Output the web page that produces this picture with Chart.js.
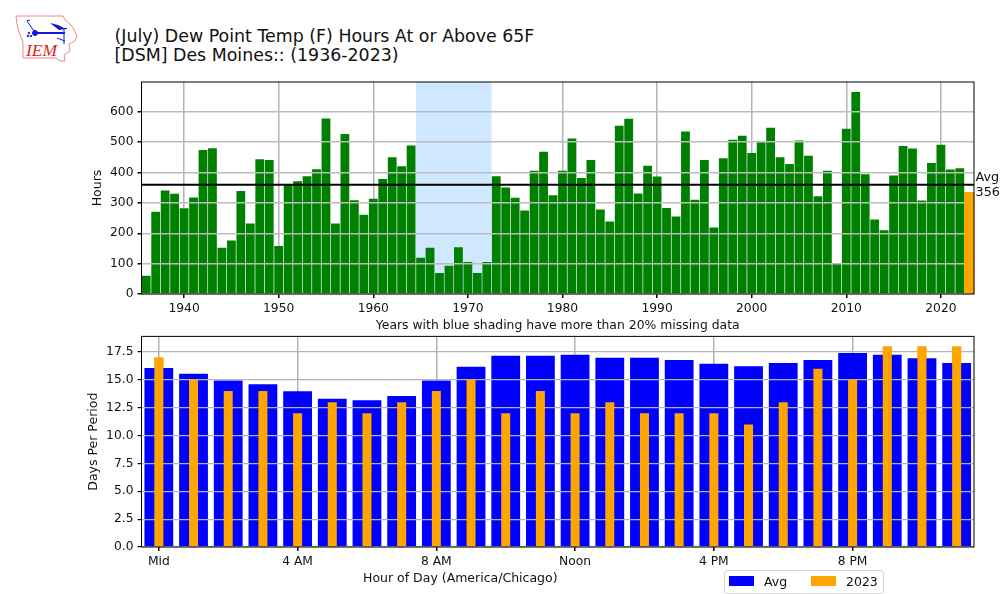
<!DOCTYPE html>
<html>
<head>
<meta charset="utf-8">
<title>Dew Point Hours</title>
<script src="https://cdn.jsdelivr.net/npm/chart.js@4"></script>
<style>
  html, body { margin: 0; padding: 0; background: #fff; overflow: hidden; }
  body { width: 1000px; height: 594px; position: relative; font-family: "DejaVu Sans", sans-serif; color: #000; }
  canvas { position: absolute; left: 0; }
  #title { position: absolute; left: 114.5px; top: 26.5px; font-size: 17.4px; line-height: 19.5px; white-space: pre; color: #111; }
  #xnote { position: absolute; left: 363px; top: 570px; font-size: 12.5px; line-height: 15px; white-space: pre; color: #111; }
  #legend { position: absolute; left: 724px; top: 570px; width: 158px; height: 22px; border: 1px solid #d8d8d8; border-radius: 3px; font-size: 12.5px; color: #111; }
  #legend span { position: absolute; top: 4px; line-height: 14px; }
  #legend i { position: absolute; top: 5px; width: 25px; height: 10px; }
  #logo { position: absolute; left: 14px; top: 14px; }
</style>
</head>
<body>
<svg id="logo" width="66" height="50" viewBox="0 0 66 50">
  <polygon points="2,2 49,2 51,6 58,12 63,22 61,27 55,30 56,37 50,41 51,47 46,47 42,44 9,44 9,28 5,18 3,10" fill="none" stroke="#e8888c" stroke-width="1"/>
  <g stroke="#1414dc" fill="#1414dc">
    <line x1="21" y1="19" x2="51" y2="19" stroke-width="2"/>
    <circle cx="21" cy="19" r="2.5"/>
    <line x1="20" y1="17" x2="13" y2="7" stroke-width="1"/>
    <line x1="13" y1="7" x2="16" y2="6" stroke-width="1"/>
    <polygon points="36,9 44,11 52,15 45,16" stroke="none"/>
    <line x1="48" y1="14.5" x2="53" y2="14.5" stroke-width="1"/>
    <line x1="50" y1="14" x2="50" y2="24" stroke-width="1"/>
    <line x1="50" y1="24" x2="50" y2="30" stroke-width="1"/>
    <line x1="43" y1="24" x2="51" y2="27" stroke-width="1"/>
    <circle cx="15" cy="19" r="0.8"/><circle cx="14" cy="22" r="0.8"/><circle cx="17" cy="22" r="0.8"/>
  </g>
  <text x="12" y="42" font-family="Liberation Serif, serif" font-style="italic" font-size="17.5" fill="#e01c24">IEM</text>
</svg>
<div id="title">(July) Dew Point Temp (F) Hours At or Above 65F
[DSM] Des Moines:: (1936-2023)</div>
<canvas id="yearChart"></canvas>
<canvas id="hourChart"></canvas>
<div id="xnote">Hour of Day (America/Chicago)</div>
<div id="legend"></div>
<script>
const years = [];
for (let y = 1936; y <= 2023; y++) years.push(y);
const yearHours = [60, 271, 341, 330, 282, 318, 474, 480, 152, 176, 339, 232, 444, 441, 158, 361, 371, 388, 411, 578, 232, 527,
  309, 261, 314, 379, 450, 421, 489, 119, 152, 69, 93, 154, 105, 69, 105, 388, 351, 317, 275, 406, 468, 325, 406, 512, 382, 441,
  278, 239, 554, 577, 331, 422, 387, 283, 255, 535, 310, 441, 219, 447, 508, 521, 464, 500, 547, 450, 428, 505, 455, 322, 406,
  99, 544, 665, 394, 245, 210, 390, 487, 479, 308, 431, 491, 410, 414, 334];
const yearTicks = [1940, 1950, 1960, 1970, 1980, 1990, 2000, 2010, 2020];
const hourValueTicks = [0, 100, 200, 300, 400, 500, 600];
const shadedYears = [1965, 1966, 1967, 1968, 1969, 1970, 1971, 1972];
const highlightYear = 2023;
const avgLine = 359.5;
const avgLabel = ["Avg", "356.4"];

const hours = [];
for (let h = 0; h < 24; h++) hours.push(h);
const hourTickLabels = { 0: "Mid", 4: "4 AM", 8: "8 AM", 12: "Noon", 16: "4 PM", 20: "8 PM" };
const dayValueTicks = [0, 2.5, 5, 7.5, 10, 12.5, 15, 17.5];
const avgDays = [16.06, 15.55, 14.93, 14.6, 13.97, 13.31, 13.16, 13.55, 14.93, 16.18, 17.17, 17.17, 17.26, 16.99, 16.99, 16.78,
  16.45, 16.21, 16.51, 16.78, 17.41, 17.26, 16.93, 16.51];
const days2023 = [17, 15, 14, 14, 12, 13, 12, 13, 14, 15, 12, 14, 12, 13, 12, 12, 12, 11, 13, 16, 15, 18, 18, 18];

const FONT = "'DejaVu Sans', sans-serif";
const GRID = "#b4b4b4";
Chart.defaults.font.family = FONT;
Chart.defaults.font.size = 12.3;
Chart.defaults.color = "#111";
Chart.defaults.animation = false;
Chart.defaults.responsive = false;
Chart.defaults.devicePixelRatio = 1;

function setupCanvas(id, top, height) {
  const c = document.getElementById(id);
  c.width = 1000;
  c.height = height;
  c.style.top = top + "px";
  return c;
}

// orange bars sit above the y grid, which itself sits above the other bars
const orangeOnTop = {
  id: "orangeOnTop",
  afterDraw(chart) {
    chart.getDatasetMeta(1).controller.draw();
  }
};

// axes frame goes on last, matplotlib style
const frame = {
  id: "frame",
  afterDraw(chart) {
    const a = chart.chartArea, ctx = chart.ctx;
    ctx.save();
    ctx.strokeStyle = "#000";
    ctx.lineWidth = 1;
    ctx.strokeRect(a.left, a.top, a.right - a.left, a.bottom - a.top);
    ctx.restore();
  }
};

// the blue band for years with missing data, from the x scale
const shading = {
  id: "shading",
  beforeDatasetsDraw(chart) {
    const x = chart.scales.x, a = chart.chartArea, ctx = chart.ctx;
    const half = (x.getPixelForValue(1) - x.getPixelForValue(0)) / 2;
    const x0 = x.getPixelForValue(years.indexOf(shadedYears[0])) - half;
    const x1 = x.getPixelForValue(years.indexOf(shadedYears[shadedYears.length - 1])) + half;
    ctx.save();
    ctx.fillStyle = "#cfe8ff";
    ctx.fillRect(x0, a.top, x1 - x0, a.bottom - a.top);
    ctx.restore();
  }
};

const avgMark = {
  id: "avgMark",
  afterDraw(chart) {
    const y = chart.scales.y.getPixelForValue(avgLine), a = chart.chartArea, ctx = chart.ctx;
    ctx.save();
    ctx.strokeStyle = "#000";
    ctx.lineWidth = 2;
    ctx.beginPath();
    ctx.moveTo(a.left, y);
    ctx.lineTo(a.right, y);
    ctx.stroke();
    ctx.fillStyle = "#111";
    ctx.font = "12.8px " + FONT;
    ctx.textBaseline = "middle";
    ctx.fillText(avgLabel[0], a.right + 1.5, y - 7);
    ctx.fillText(avgLabel[1], a.right + 1.5, y + 8);
    ctx.restore();
  }
};

function sharedY(max, tickValues, title, fmt, width, gridColor, gridWidth) {
  return {
    min: 0,
    max: max,
    title: { display: true, text: title, color: "#111", font: { size: 12.5 }, padding: 0 },
    grid: { color: gridColor, z: 1, tickColor: "#000", tickLength: 4, lineWidth: gridWidth },
    border: { display: false },
    ticks: { padding: 4, callback: fmt },
    afterBuildTicks(s) { s.ticks = tickValues.map(value => ({ value })); },
    afterFit(s) { s.width = width; }
  };
}

new Chart(setupCanvas("yearChart", 0, 335), {
  type: "bar",
  data: {
    labels: years,
    datasets: [
      {
        label: "Hours",
        data: yearHours.map((v, i) => years[i] === highlightYear ? null : v),
        backgroundColor: "#008000",
        grouped: false,
        barPercentage: 0.93,
        categoryPercentage: 1
      },
      {
        label: String(highlightYear),
        data: yearHours.map((v, i) => years[i] === highlightYear ? v : null),
        backgroundColor: "#ffa500",
        grouped: false,
        barPercentage: 1,
        categoryPercentage: 1
      }
    ]
  },
  options: {
    layout: { padding: { left: 90, right: 26, top: 82, bottom: 2 } },
    plugins: { legend: { display: false }, tooltip: { enabled: false } },
    scales: {
      x: {
        grid: { color: GRID, z: -1, offset: false, tickColor: "#000", tickLength: 4, lineWidth: 1.5 },
        border: { display: false },
        title: { display: true, text: "Years with blue shading have more than 20% missing data", color: "#111", font: { size: 12.4 }, padding: 0 },
        ticks: {
          autoSkip: false, maxRotation: 0, padding: 3,
          callback(v) { const y = years[v]; return yearTicks.includes(y) ? String(y) : null; }
        },
        afterFit(s) { s.height = 39; }
      },
      y: sharedY(698, hourValueTicks, "Hours", v => v, 51.5, "#bcbcbc", 1.5)
    }
  },
  plugins: [shading, orangeOnTop, avgMark, frame]
});

const hourChart = new Chart(setupCanvas("hourChart", 325, 269), {
  type: "bar",
  data: {
    labels: hours,
    datasets: [
      { label: "Avg", data: avgDays, backgroundColor: "#0000ff", grouped: false, barPercentage: 0.83, categoryPercentage: 1 },
      { label: "2023", data: days2023, backgroundColor: "#ffa500", grouped: false, barPercentage: 0.26, categoryPercentage: 1 }
    ]
  },
  options: {
    layout: { padding: { left: 86, right: 26, top: 1, bottom: 12 } },
    plugins: { legend: { display: false }, tooltip: { enabled: false } },
    scales: {
      x: {
        grid: { color: GRID, z: -1, offset: false, tickColor: "#000", tickLength: 4, lineWidth: 1.5 },
        border: { display: false },
        ticks: {
          autoSkip: false, maxRotation: 0, padding: 3,
          callback(v) { return hourTickLabels[hours[v]] ?? null; }
        },
        afterFit(s) { s.height = 35; }
      },
      y: sharedY(18.9, dayValueTicks, "Days Per Period", v => v.toFixed(1), 55.5, GRID, 1.2)
    }
  },
  plugins: [orangeOnTop, frame]
});

// legend built from the hour chart datasets
const legend = document.getElementById("legend");
const legendX = [[4, 39], [86, 121]];
hourChart.data.datasets.forEach((d, i) => {
  const sw = document.createElement("i");
  sw.style.left = legendX[i][0] + "px";
  sw.style.background = d.backgroundColor;
  const t = document.createElement("span");
  t.style.left = legendX[i][1] + "px";
  t.textContent = d.label;
  legend.append(sw, t);
});
</script>
</body>
</html>
